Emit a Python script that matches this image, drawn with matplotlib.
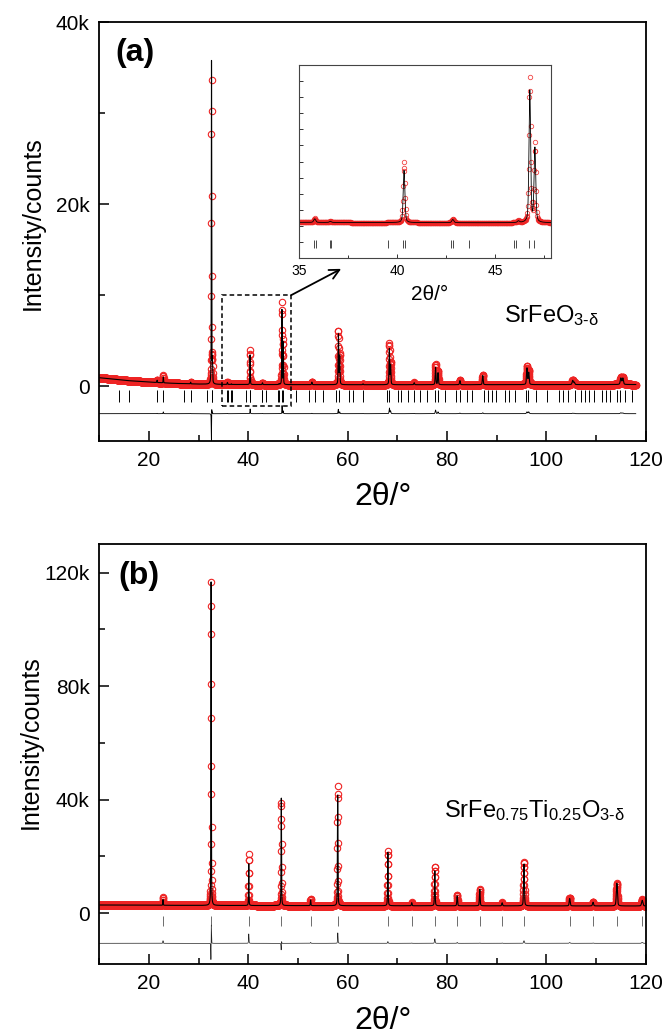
import numpy as np
import matplotlib
matplotlib.use("Agg")
from matplotlib import pyplot as plt
from matplotlib.ticker import MultipleLocator, FuncFormatter
from matplotlib.patches import Rectangle

plt.rcParams['font.family'] = ['Liberation Sans', 'DejaVu Sans']
plt.rcParams['mathtext.fontset'] = 'custom'
plt.rcParams['mathtext.rm'] = 'Liberation Sans'
plt.rcParams['mathtext.it'] = 'Liberation Sans:italic'
plt.rcParams['mathtext.bf'] = 'Liberation Sans:bold'

# ---- panel (a): SrFeO3-d ----
# background knots (2theta, counts)
bg_x_a = [10, 13, 16, 20, 25, 30, 35, 45, 60, 80, 100, 118]
bg_y_a = [950, 780, 620, 470, 330, 250, 210, 190, 180, 180, 190, 200]
# reflections: position, observed height, calculated height, fwhm, obs shift
pk_pos_a = [21.65, 22.9, 28.4, 32.6, 32.78, 35.8, 36.6, 40.36, 42.85, 46.2,
            46.78, 47.04, 52.8, 58.15, 58.4, 63.1, 68.4, 68.65, 73.4, 77.7,
            78.2, 82.6, 87.2, 96.1, 96.45, 105.3, 105.6, 115.0, 115.4]
pk_obs_a = [300, 850, 200, 33500, 2500, 250, 80, 3750, 230, 120,
            9000, 4900, 320, 5900, 3300, 120, 4500, 2400, 250, 2300,
            1500, 520, 1100, 2000, 1500, 500, 300, 800, 780]
pk_calc_a = [250, 650, 180, 35500, 2300, 220, 70, 3250, 200, 100,
             8200, 4600, 280, 5500, 3100, 100, 3900, 2100, 220, 1900,
             1300, 450, 1000, 1800, 1300, 450, 260, 700, 700]
pk_fwhm_a = [0.10, 0.10, 0.10, 0.09, 0.09, 0.12, 0.12, 0.10, 0.12, 0.12,
             0.10, 0.10, 0.14, 0.14, 0.14, 0.15, 0.15, 0.15, 0.16, 0.17,
             0.17, 0.18, 0.19, 0.22, 0.22, 0.25, 0.25, 0.28, 0.28]
pk_shift_a = [0, 0, 0, 0.003, 0, 0, 0, 0.002, 0, 0,
              0.002, 0, 0, -0.003, 0, 0, 0.002, 0, 0, 0,
              0, 0, 0, 0, 0, 0, 0, 0, 0]
bragg_a = [14.0, 15.9, 21.7, 22.9, 27.1, 28.4, 31.7, 32.6, 32.75, 35.77,
           35.87, 36.58, 36.65, 39.56, 40.32, 40.40, 42.74, 42.84, 43.67, 45.99,
           46.1, 46.75, 47.0, 49.6, 52.2, 53.5, 55.0, 57.6, 58.2, 60.3,
           61.0, 63.1, 67.9, 68.4, 70.2, 70.8, 72.1, 73.3, 74.6, 75.9,
           77.5, 78.1, 79.7, 81.8, 82.7, 84.0, 85.0, 87.4, 88.3, 89.1,
           89.8, 91.7, 92.5, 93.7, 95.9, 96.3, 98.0, 100.2, 102.6, 103.4,
           104.4, 105.7, 107.0, 107.8, 108.6, 109.5, 111.2, 112.1, 112.9, 114.2,
           114.8, 115.9, 117.2]

# ---- panel (b): SrFe0.75Ti0.25O3-d ----
bg_x_b = [10, 30, 60, 90, 120]
bg_y_b = [2900, 2750, 2650, 2600, 2550]
pk_pos_b = [22.84, 32.52, 40.1, 46.65, 52.55, 58.0, 68.1, 72.9, 77.55,
            82.05, 86.6, 91.1, 95.5, 104.7, 109.4, 114.2, 119.3]
pk_obs_b = [2900, 114500, 18000, 36600, 2300, 42300, 19400, 1200, 13900,
            3800, 5900, 1200, 15600, 2900, 1400, 8000, 2300]
pk_calc_b = [2000, 114000, 14700, 37900, 2000, 39000, 18800, 1100, 12300,
             3500, 5800, 1100, 14700, 2600, 1300, 8000, 2000]
pk_fwhm_b = [0.10, 0.10, 0.10, 0.11, 0.12, 0.12, 0.13, 0.14, 0.15,
             0.16, 0.17, 0.18, 0.19, 0.22, 0.24, 0.26, 0.30]
pk_shift_b = [0, 0.004, 0, 0.003, 0, 0.002, 0, 0, 0,
              0, 0, 0, 0, 0, 0, 0, 0]
bragg_b = [22.84, 32.52, 40.1, 46.65, 52.55, 58.0, 68.1, 72.9, 77.55,
           82.05, 86.6, 91.1, 95.5, 104.7, 109.4, 114.2, 119.2]

red = '#ee2424'


def profile(x, pos, height, fwhm, shift):
    out = np.zeros_like(x)
    for p, h, w, s in zip(pos, height, fwhm, shift):
        u = (x - p - s) / w
        out += h * (0.6 * np.exp(-4 * np.log(2) * u ** 2) + 0.4 / (1 + 4 * u ** 2))
    return out


def pattern(xmax, bgx, bgy, pos, obs, calc, fwhm, shift):
    x = np.arange(10, xmax + 1e-6, 0.02)
    xf = np.arange(10, xmax + 1e-6, 0.004)
    zero = [0] * len(pos)
    y_obs = np.interp(x, bgx, bgy) + profile(x, pos, obs, fwhm, shift)
    y_calc_c = np.interp(x, bgx, bgy) + profile(x, pos, calc, fwhm, zero)
    y_calc = np.interp(xf, bgx, bgy) + profile(xf, pos, calc, fwhm, zero)
    return x, y_obs, xf, y_calc, y_obs - y_calc_c


def kfmt(v, _):
    return '0' if v == 0 else '%dk' % round(v / 1000)


def style(ax):
    for s in ax.spines.values():
        s.set_linewidth(1.3)
    ax.tick_params(which='both', direction='in', top=False, right=False,
                   labelsize=15, width=1.1)
    ax.tick_params(which='major', length=7, pad=7)
    ax.tick_params(which='minor', length=4)
    ax.xaxis.set_major_locator(MultipleLocator(20))
    ax.xaxis.set_minor_locator(MultipleLocator(10))
    ax.yaxis.set_major_formatter(FuncFormatter(kfmt))
    ax.set_xlim(10, 120)
    ax.set_xlabel('2θ/°', fontsize=23, va='center')
    ax.xaxis.set_label_coords(0.52, -0.134)
    ax.set_ylabel('Intensity/counts', fontsize=18, va='center')


fig = plt.figure(figsize=(6.66, 10.34), dpi=100)
ax1 = fig.add_axes([0.149, 0.5735, 0.8205, 0.4052])
ax2 = fig.add_axes([0.149, 0.0674, 0.8205, 0.4062])

# panel (a)
xa, obs_a, xfa, calc_a, diff_a = pattern(118, bg_x_a, bg_y_a, pk_pos_a, pk_obs_a,
                                         pk_calc_a, pk_fwhm_a, pk_shift_a)
ax1.plot(xa, obs_a, 'o', ms=4.6, mfc='none', mec=red, mew=0.8, zorder=2)
ax1.plot(xfa, calc_a, '-', color='black', lw=0.8, zorder=3)
ax1.plot(bragg_a, np.full(len(bragg_a), -1100), '|', color='black', ms=8, mew=0.7)
ax1.plot(xa, diff_a - 3000, '-', color='black', lw=0.6)
ax1.set_ylim(-6000, 40000)
ax1.yaxis.set_major_locator(MultipleLocator(20000))
ax1.yaxis.set_minor_locator(MultipleLocator(10000))
style(ax1)
ax1.yaxis.set_label_coords(-0.121, 0.52)
ax1.text(0.03, 0.925, '(a)', transform=ax1.transAxes, fontsize=23,
         fontweight='bold', va='center', ha='left')
ax1.text(0.741, 0.283, r'SrFeO$_{\mathrm{3}\text{-}\mathrm{δ}}$',
         transform=ax1.transAxes, fontsize=17, ha='left', va='baseline')
ax1.add_patch(Rectangle((34.8, -2200), 48.6 - 34.8, 12200, fill=False,
                        ls=(0, (3, 2)), lw=1.1, color='black', zorder=4))
ax1.annotate('', xy=(58.7, 12900), xytext=(48.6, 10000),
             arrowprops=dict(arrowstyle='->,head_length=0.7,head_width=0.35',
                             lw=1.3, color='black', shrinkA=0, shrinkB=0))

# inset
axi = fig.add_axes([0.449, 0.7505, 0.378, 0.1866])
m = (xa >= 34.9) & (xa <= 47.9)
mf = (xfa >= 34.9) & (xfa <= 47.9)
axi.plot(xa[m], obs_a[m], 'o', ms=3.2, mfc='none', mec=red, mew=0.6, alpha=0.85)
axi.plot(xfa[mf], calc_a[mf], '-', color='black', lw=0.6)
bi = [b for b in bragg_a if 35 <= b <= 47.85]
axi.plot(bi, np.full(len(bi), -1150), '|', color='black', ms=6, mew=0.5)
axi.set_xlim(35, 47.85)
axi.set_ylim(-2000, 10000)
axi.xaxis.set_major_locator(MultipleLocator(5))
axi.xaxis.set_minor_locator(MultipleLocator(2.5))
axi.yaxis.set_major_locator(MultipleLocator(1000))
axi.tick_params(which='both', direction='in', top=False, right=False,
                labelsize=10, width=0.7, pad=4, colors='#333333')
axi.tick_params(which='major', length=3)
axi.tick_params(which='minor', length=2.5)
axi.tick_params(axis='x', labelcolor='black')
axi.set_yticklabels([])
for s in axi.spines.values():
    s.set_linewidth(0.8)
    s.set_color('#444444')
axi.set_xlabel('2θ/°', fontsize=15, va='center')
axi.xaxis.set_label_coords(0.52, -0.187)

# panel (b)
xb, obs_b, xfb, calc_b, diff_b = pattern(120, bg_x_b, bg_y_b, pk_pos_b, pk_obs_b,
                                         pk_calc_b, pk_fwhm_b, pk_shift_b)
ax2.plot(xb, obs_b, 'o', ms=4.6, mfc='none', mec=red, mew=0.8, zorder=2)
ax2.plot(xfb, calc_b, '-', color='black', lw=0.8, zorder=3)
ax2.plot(bragg_b, np.full(len(bragg_b), -2600), '|', color='#555555', ms=7, mew=0.6)
ax2.plot(xb, diff_b - 10600, '-', color='#222222', lw=0.5)
ax2.set_ylim(-18000, 130000)
ax2.yaxis.set_major_locator(MultipleLocator(40000))
ax2.yaxis.set_minor_locator(MultipleLocator(20000))
style(ax2)
ax2.yaxis.set_label_coords(-0.125, 0.53)
ax2.text(0.035, 0.925, '(b)', transform=ax2.transAxes, fontsize=23,
         fontweight='bold', va='center', ha='left')
ax2.text(0.631, 0.35, r'SrFe$_{\mathrm{0.75}}$Ti$_{\mathrm{0.25}}$O$_{\mathrm{3}\text{-}\mathrm{δ}}$',
         transform=ax2.transAxes, fontsize=17, ha='left', va='baseline')

fig.savefig('out.png', dpi=100)
